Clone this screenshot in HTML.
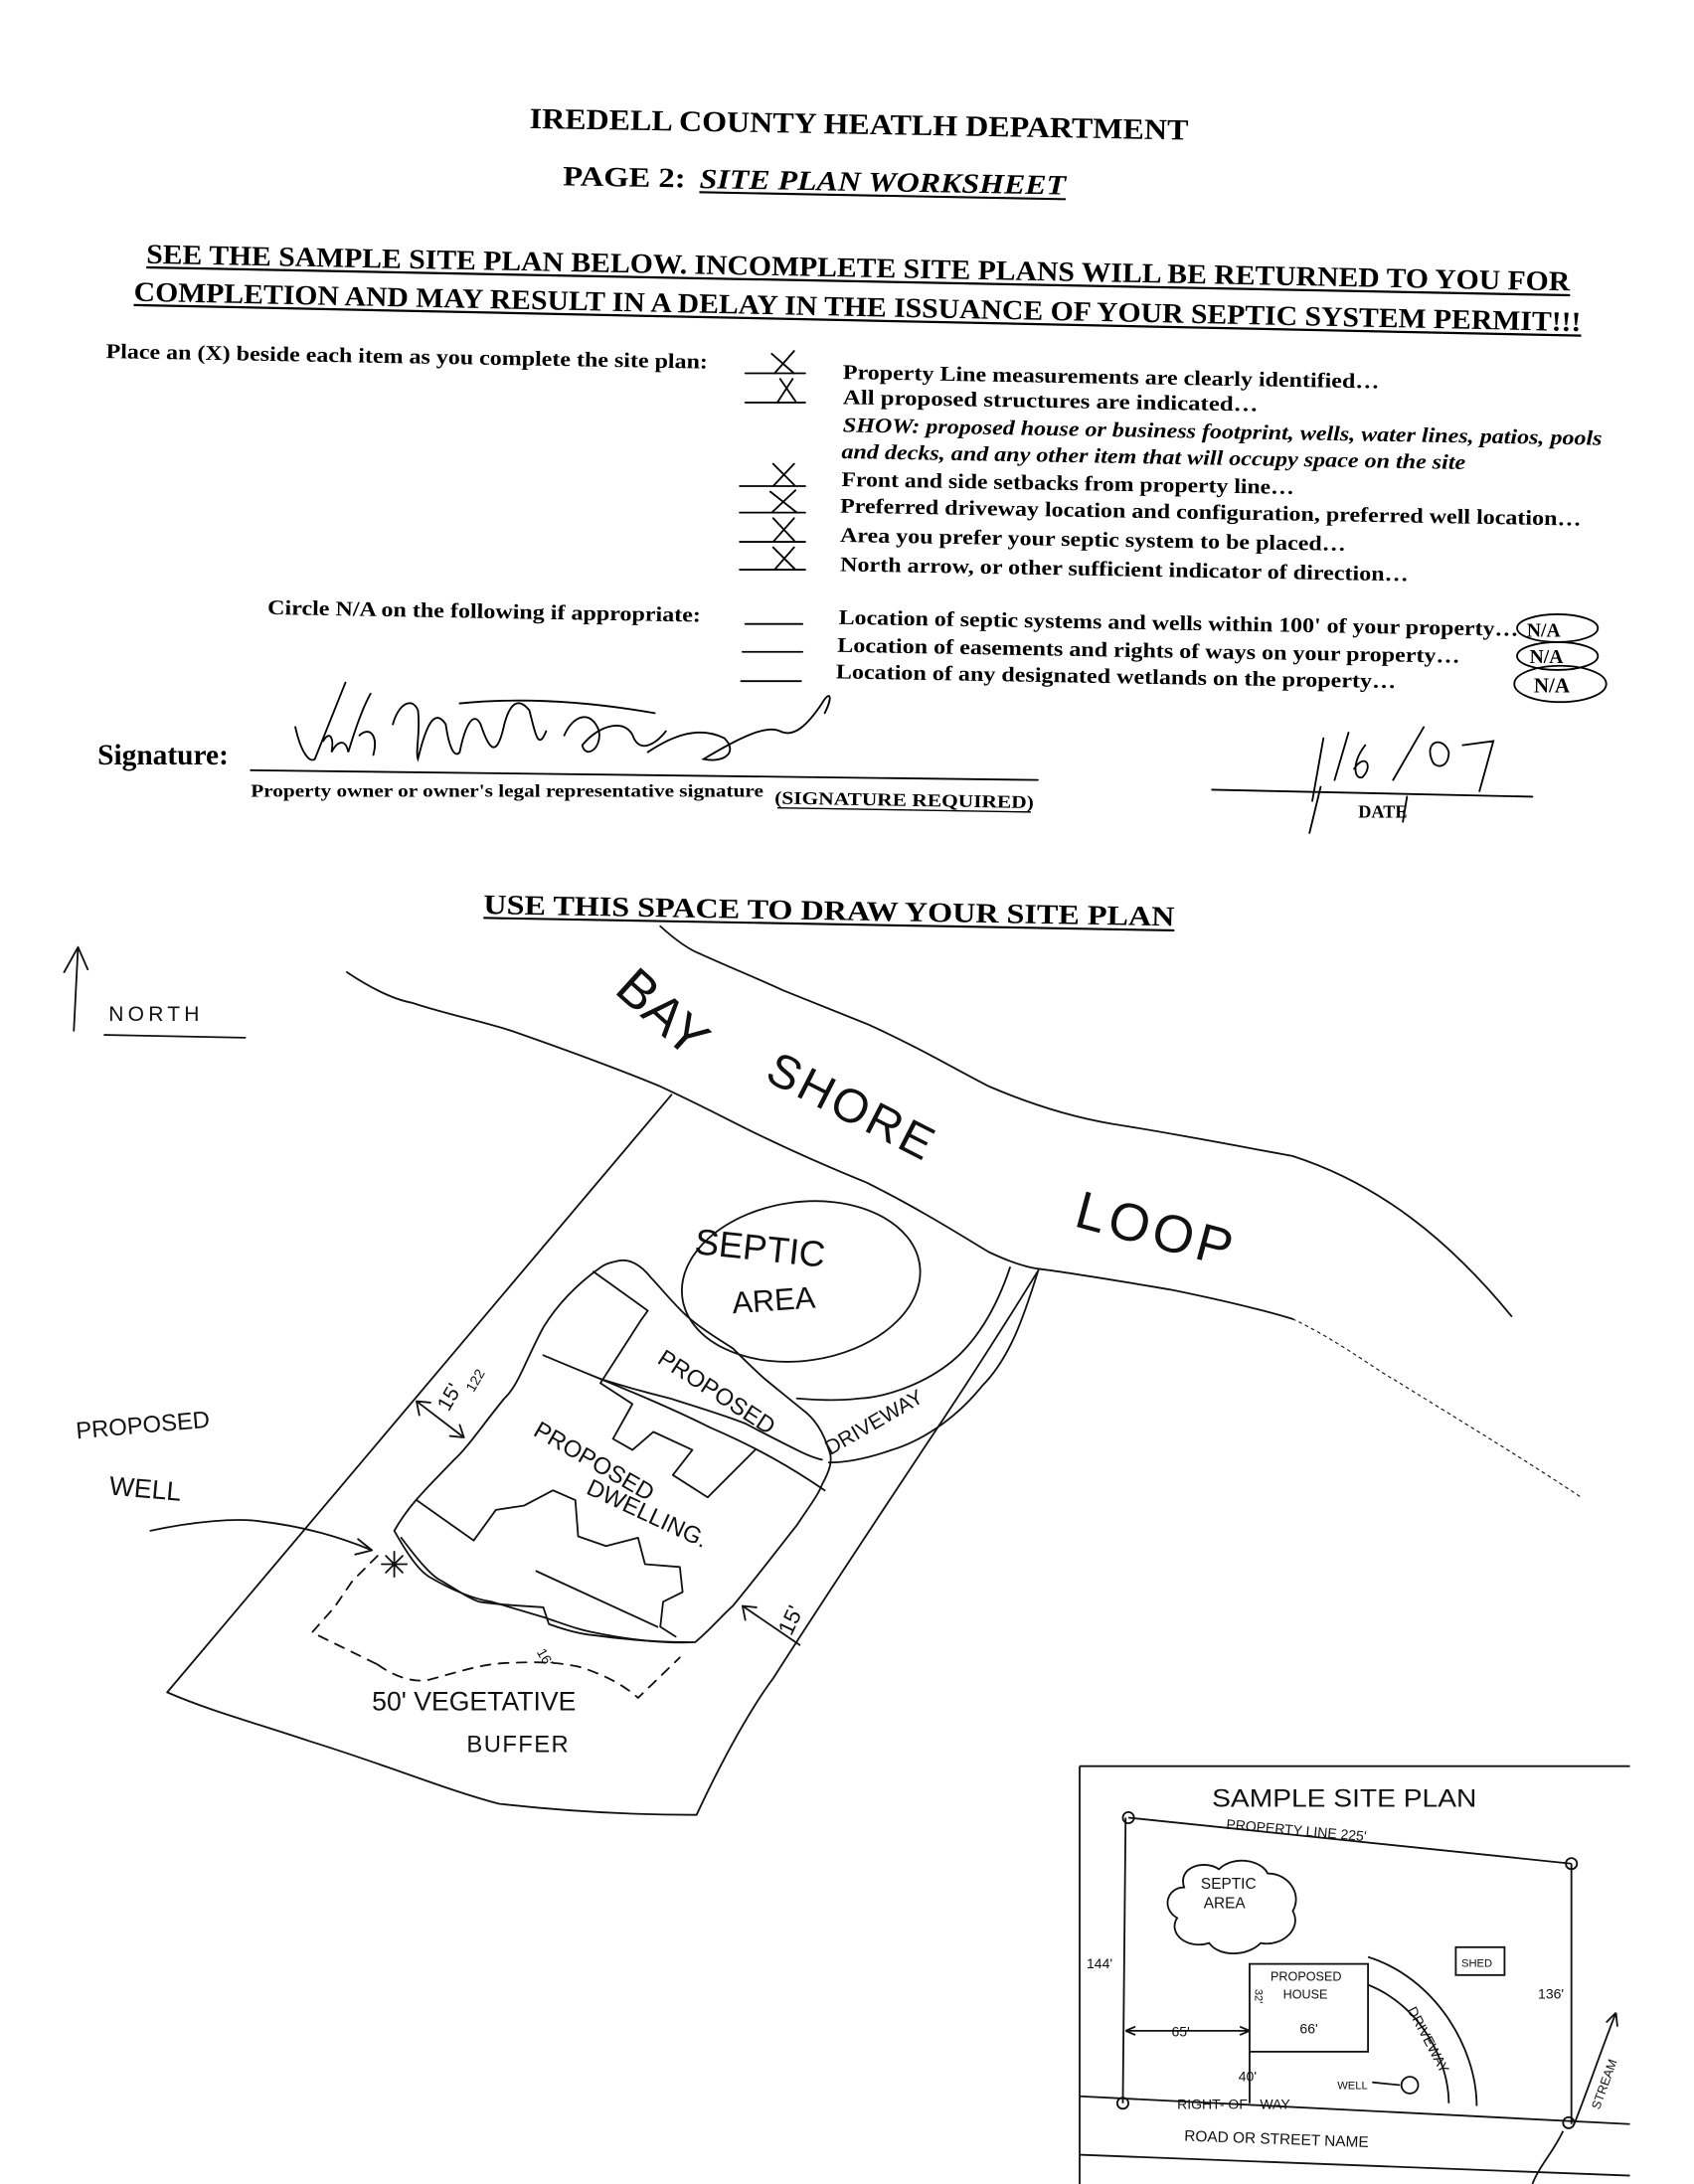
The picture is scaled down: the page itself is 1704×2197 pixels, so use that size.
<!DOCTYPE html>
<html><head><meta charset="utf-8"><style>
html,body{margin:0;padding:0;background:#fff;}
svg{display:block;}
.f{font-family:"Liberation Serif",serif;font-weight:bold;fill:#000;}
.h{font-family:"Liberation Sans",sans-serif;fill:#111;}
</style></head><body>
<svg width="1704" height="2197" viewBox="0 0 1216 1568" preserveAspectRatio="none" xmlns="http://www.w3.org/2000/svg">
<rect width="1216" height="1568" fill="#fff"/>
<!-- FORM -->
<text class="f" x="380" y="92" font-size="21" textLength="473" lengthAdjust="spacingAndGlyphs" transform="rotate(1 380 92)">IREDELL COUNTY HEATLH DEPARTMENT</text>
<text class="f" x="404" y="133" font-size="20" textLength="88" lengthAdjust="spacingAndGlyphs" transform="rotate(1 404 133)">PAGE 2:</text>
<text class="f" x="502" y="135" font-size="20" font-style="italic" textLength="263" lengthAdjust="spacingAndGlyphs" transform="rotate(1 502 135)">SITE PLAN WORKSHEET</text>
<line x1="502" y1="138" x2="765" y2="143" stroke="#000" stroke-width="1.5"/>
<text class="f" x="105" y="189" font-size="20" textLength="1022" lengthAdjust="spacingAndGlyphs" transform="rotate(1.1 105 189)">SEE THE SAMPLE SITE PLAN BELOW.  INCOMPLETE SITE PLANS WILL BE RETURNED TO YOU FOR</text>
<line x1="105" y1="192" x2="1127" y2="212" stroke="#000" stroke-width="1.6"/>
<text class="f" x="96" y="216" font-size="20" textLength="1039" lengthAdjust="spacingAndGlyphs" transform="rotate(1.2 96 216)">COMPLETION AND MAY RESULT IN A DELAY IN THE ISSUANCE OF YOUR SEPTIC SYSTEM PERMIT!!!</text>
<line x1="96" y1="219" x2="1135" y2="241" stroke="#000" stroke-width="1.6"/>
<text class="f" x="76" y="257" font-size="15" textLength="432" lengthAdjust="spacingAndGlyphs" transform="rotate(1 76 257)">Place an (X) beside each item as you complete the site plan:</text>
<g class="f" font-size="15">
<text x="605" y="272" textLength="385" lengthAdjust="spacingAndGlyphs" transform="rotate(1 605 272)">Property Line measurements are clearly identified…</text>
<text x="605" y="290" textLength="298" lengthAdjust="spacingAndGlyphs" transform="rotate(1 605 290)">All proposed structures are indicated…</text>
<text x="605" y="310" font-style="italic" textLength="545" lengthAdjust="spacingAndGlyphs" transform="rotate(1 605 310)">SHOW: proposed house or business footprint, wells, water lines, patios, pools</text>
<text x="604" y="329" font-style="italic" textLength="448" lengthAdjust="spacingAndGlyphs" transform="rotate(1 604 329)">and decks, and any other item that will occupy space on the site</text>
<text x="604" y="349" textLength="325" lengthAdjust="spacingAndGlyphs" transform="rotate(1 604 349)">Front and side setbacks from property line…</text>
<text x="603" y="368" textLength="532" lengthAdjust="spacingAndGlyphs" transform="rotate(1 603 368)">Preferred driveway location and configuration, preferred well location…</text>
<text x="603" y="389" textLength="363" lengthAdjust="spacingAndGlyphs" transform="rotate(1 603 389)">Area you prefer your septic system to be placed…</text>
<text x="603" y="410" textLength="408" lengthAdjust="spacingAndGlyphs" transform="rotate(1 603 410)">North arrow, or other sufficient indicator of direction…</text>
<text x="192" y="441" textLength="311" lengthAdjust="spacingAndGlyphs" transform="rotate(1 192 441)">Circle N/A on the following if appropriate:</text>
<text x="602" y="448" textLength="488" lengthAdjust="spacingAndGlyphs" transform="rotate(1 602 448)">Location of septic systems and wells within 100' of your property…</text>
<text x="601" y="468" textLength="447" lengthAdjust="spacingAndGlyphs" transform="rotate(1 601 468)">Location of easements and rights of ways on your property…</text>
<text x="600" y="487" textLength="402" lengthAdjust="spacingAndGlyphs" transform="rotate(1 600 487)">Location of any designated wetlands on the property…</text>
<text x="1096" y="457" font-size="14">N/A</text>
<text x="1098" y="476" font-size="14">N/A</text>
<text x="1101" y="497" font-size="15">N/A</text>
</g>
<g fill="none" stroke="#000" stroke-width="1.3" stroke-linecap="round">
<line x1="535" y1="268" x2="578" y2="268"/><line x1="535" y1="289" x2="578" y2="289"/>
<path d="M554,254 L570,268 M570,252 L556,268 M560,272 L571,288 M569,272 L558,289"/>
<path d="M555,333 L570,348 M570,333 L555,349 M553,353 L572,368 M571,352 L554,368 M555,372 L570,388 M570,372 L555,389 M555,393 L571,409 M570,393 L556,409"/>
<line x1="531" y1="349" x2="578" y2="349"/><line x1="531" y1="368" x2="578" y2="368"/><line x1="531" y1="389" x2="578" y2="389"/><line x1="531" y1="409" x2="578" y2="409"/>
<line x1="535" y1="448" x2="576" y2="448"/><line x1="533" y1="468" x2="576" y2="468"/><line x1="532" y1="489" x2="575" y2="489"/>
<ellipse cx="1118" cy="451" rx="29" ry="10"/>
<ellipse cx="1118" cy="471" rx="29" ry="10"/>
<ellipse cx="1120" cy="491" rx="33" ry="13"/>
<line x1="180" y1="553" x2="745" y2="560"/>
<line x1="870" y1="567" x2="1100" y2="572"/>
<path d="M212,522 C216,540 222,548 226,545 C232,530 240,510 248,490 M232,532 C236,525 240,528 238,540 C242,532 248,530 250,540 C256,520 262,505 266,498 M258,528 C264,522 272,526 268,542 M282,520 C286,505 296,500 300,510 C302,525 298,540 300,545 C306,520 312,508 320,520 C322,535 326,545 330,540 C334,520 340,510 345,520 C350,535 356,548 362,520 C366,505 372,500 380,510 C384,525 386,540 392,525 M330,505 C380,500 430,505 470,512 M405,528 C412,512 425,510 430,525 C432,538 420,545 418,535 C430,520 450,515 455,530 C460,540 470,535 478,525 M465,540 C480,530 500,520 520,530 C530,540 520,548 505,545 C530,530 550,520 560,525 C570,530 580,520 590,505 C596,495 598,500 592,512"/>
<path d="M942,575 L950,530 M958,560 L968,526 M972,552 C980,540 986,550 978,558 C972,560 970,548 980,535 M1000,560 L1022,522 M1028,546 C1022,532 1036,528 1040,540 C1040,552 1030,552 1028,546 M1050,535 L1072,532 L1062,568 M948,565 L940,598 M1010,572 L1007,590"/>
</g>
<text class="f" x="70" y="549" font-size="21">Signature:</text>
<text class="f" x="180" y="572" font-size="13" textLength="368" lengthAdjust="spacingAndGlyphs">Property owner or owner's legal representative signature</text>
<text class="f" x="556" y="577" font-size="13" textLength="186" lengthAdjust="spacingAndGlyphs" transform="rotate(1 556 577)">(SIGNATURE REQUIRED)</text>
<line x1="558" y1="580" x2="740" y2="583" stroke="#000" stroke-width="1"/>
<text class="f" x="975" y="587" font-size="13">DATE</text>
<text class="f" x="347" y="656" font-size="20" textLength="496" lengthAdjust="spacingAndGlyphs" transform="rotate(1 347 656)">USE THIS SPACE TO DRAW YOUR SITE PLAN</text>
<line x1="347" y1="659" x2="843" y2="668" stroke="#000" stroke-width="1.5"/>

<!-- SKETCH -->
<g fill="none" stroke="#111" stroke-width="1.3" stroke-linecap="round" stroke-linejoin="round">
<path d="M53,740 L56,680 M56,680 L46,698 M56,680 L63,696"/>
<path d="M75,743 L176,745"/>
<path d="M249,698 C270,712 285,718 296,720 C320,728 345,733 367,740 C410,755 445,768 474,780 C500,792 515,800 533,809 C565,825 595,838 622,849 C660,868 690,887 710,899 C725,906 737,910 746,911 C770,914 805,920 841,926 C880,934 905,940 928,947"/>
<path d="M928,947 C960,962 990,985 1000,990 C1040,1015 1090,1045 1135,1075" stroke-dasharray="2 3" stroke-width="0.8"/>
<path d="M474,665 C485,675 495,682 503,685 C525,695 545,703 562,711 C585,720 605,728 622,735 C660,752 690,770 710,780 C745,795 775,803 799,807 C850,815 900,825 928,830 C990,850 1040,890 1085,945"/>
<path d="M482,786 L120,1215 C150,1228 180,1236 222,1250 C280,1268 320,1285 358,1295 C420,1302 470,1303 500,1303 C520,1260 540,1225 555,1205 C590,1150 630,1090 663,1040 C700,985 725,945 746,911"/>
<ellipse cx="575" cy="920" rx="86" ry="57" transform="rotate(-8 575 920)"/>
<!-- driveway -->
<path d="M745,913 C735,945 725,975 705,995 C685,1020 660,1035 640,1041 C620,1048 605,1050 595,1050"/>
<path d="M725,910 C715,940 700,965 680,980 C660,995 635,1003 617,1004 C600,1006 585,1005 572,1004"/>
<!-- envelope -->
<path d="M431,910 C410,925 398,940 390,953 C378,975 372,995 362,1004 C345,1025 335,1040 326,1048 C310,1065 295,1078 283,1099 C292,1115 300,1127 308,1132 C325,1142 340,1148 353,1150 C370,1155 380,1158 390,1161 C405,1166 415,1170 426,1172 C455,1178 480,1180 499,1179 C510,1170 518,1160 526,1153 C545,1130 560,1110 572,1095 C582,1080 588,1072 590,1066 C596,1055 598,1048 595,1041 C590,1025 583,1017 576,1012 C565,1003 555,995 549,990 C540,982 532,974 526,968 C510,958 498,950 490,942 C480,932 472,922 467,917 C460,908 452,904 445,905 C440,906 435,907 431,910"/>
<path d="M288,1104 C300,1120 310,1132 317,1135 C330,1143 338,1148 344,1150 C365,1153 380,1153 390,1154 L394,1166 C405,1170 415,1173 426,1174 C455,1178 480,1179 494,1179"/>
<path d="M390,973 C430,990 470,1005 510,1025 C545,1040 570,1055 592,1070"/>
<path d="M426,913 L465,941 L460,948 L431,993 L454,1008 L440,1033 L454,1041 L469,1028 L497,1041 L483,1059 L508,1075 L542,1041"/>
<path d="M431,990 C450,996 465,1000 481,1004 C500,1010 520,1016 535,1022 C550,1030 562,1036 572,1041 C580,1045 585,1047 590,1048"/>
<path d="M299,1077 L340,1106 L356,1084 L376,1081 L397,1070 L413,1077 L415,1103 L435,1110 L458,1104 L463,1123 L488,1125 L490,1143 L476,1150 L474,1168 L485,1175"/>
<path d="M385,1128 L472,1168"/>
<!-- buffer -->
<path d="M271,1117 L253,1135 L240,1154 L224,1172 L271,1195 M271,1195 C285,1205 298,1208 308,1206 C330,1200 345,1195 362,1194 C385,1193 400,1193 417,1197 C435,1203 448,1210 458,1219 L488,1190" stroke-dasharray="7 6"/>
<path d="M277,1117 L289,1129 M289,1117 L277,1129 M283,1114 L283,1132 M274,1123 L292,1123"/>
<path d="M108,1099 C140,1092 170,1090 185,1092 C220,1096 245,1104 267,1113 M267,1113 L257,1105 M267,1113 L255,1116"/>
<path d="M299,1006 L333,1032 M299,1006 L301,1016 M299,1006 L309,1007 M333,1032 L330,1023 M333,1032 L323,1031"/>
<path d="M533,1153 L574,1181 M533,1153 L535,1163 M533,1153 L543,1154"/>
</g>
<g class="h">
<text x="78" y="733" font-size="15" letter-spacing="3">NORTH</text>
<text x="440" y="712" font-size="38" transform="rotate(42 440 712)">BAY</text>
<text x="548" y="775" font-size="34" letter-spacing="2" transform="rotate(27 548 775)">SHORE</text>
<text x="770" y="880" font-size="38" letter-spacing="3" transform="rotate(15 770 880)">LOOP</text>
<text x="498" y="900" font-size="26" transform="rotate(6 498 900)">SEPTIC</text>
<text x="526" y="943" font-size="22" transform="rotate(-4 526 943)">AREA</text>
<text x="471" y="978" font-size="17" transform="rotate(33 471 978)">PROPOSED</text>
<text x="596" y="1045" font-size="15" transform="rotate(-30 596 1045)">DRIVEWAY</text>
<text x="382" y="1030" font-size="17" transform="rotate(30 382 1030)">PROPOSED</text>
<text x="420" y="1072" font-size="17" transform="rotate(25 420 1072)">DWELLING.</text>
<text x="55" y="1033" font-size="17" transform="rotate(-5 55 1033)">PROPOSED</text>
<text x="78" y="1073" font-size="19" transform="rotate(5 78 1073)">WELL</text>
<text x="322" y="1014" font-size="15" transform="rotate(-60 322 1014)">15'</text>
<text x="340" y="1000" font-size="10" transform="rotate(-60 340 1000)">122</text>
<text x="568" y="1175" font-size="16" transform="rotate(-65 568 1175)">15'</text>
<text x="267" y="1228" font-size="19">50' VEGETATIVE</text>
<text x="335" y="1258" font-size="17" letter-spacing="1">BUFFER</text>
<text x="385" y="1186" font-size="10" transform="rotate(60 385 1186)">16'</text>
</g>

<!-- SAMPLE SITE PLAN -->
<g fill="none" stroke="#111" stroke-width="1.3">
<line x1="775" y1="1268" x2="1170" y2="1268"/>
<line x1="775" y1="1268" x2="775" y2="1568"/>
<path d="M810,1305 L1128,1338 M808,1305 L806,1510 M1128,1338 L1128,1525"/>
<circle cx="810" cy="1305" r="4"/><circle cx="1128" cy="1338" r="4"/><circle cx="806" cy="1510" r="4"/><circle cx="1126" cy="1524" r="4"/>
<path d="M775,1505 L1170,1525 M775,1547 L1170,1562"/>
<path d="M850,1355 C845,1340 865,1335 875,1342 C885,1332 905,1335 910,1345 C925,1345 935,1360 928,1372 C935,1385 920,1398 905,1395 C895,1405 875,1405 868,1395 C852,1400 838,1388 845,1377 C833,1370 838,1355 850,1355 Z"/>
<rect x="1045" y="1398" width="35" height="20"/>
<rect x="897" y="1410" width="85" height="63"/>
<path d="M982,1405 C1030,1420 1060,1470 1060,1512 M982,1425 C1020,1440 1040,1480 1040,1510"/>
<path d="M808,1458 L897,1458 M897,1473 L897,1510 M808,1458 L815,1455 M808,1458 L815,1461 M897,1458 L890,1455 M897,1458 L890,1461"/>
<circle cx="1012" cy="1497" r="6"/>
<path d="M985,1495 L1005,1497"/>
<path d="M1130,1525 C1140,1500 1150,1470 1160,1445 M1160,1445 L1153,1452 M1160,1445 L1161,1455"/>
<path d="M1122,1530 C1115,1545 1105,1555 1100,1568"/>
</g>
<g class="h" fill="#111">
<text x="870" y="1297" font-size="18" textLength="190" lengthAdjust="spacingAndGlyphs">SAMPLE SITE PLAN</text>
<text x="880" y="1313" font-size="10" transform="rotate(5 880 1313)">PROPERTY  LINE  225'</text>
<text x="862" y="1356" font-size="11">SEPTIC</text>
<text x="864" y="1370" font-size="11">AREA</text>
<text x="1049" y="1412" font-size="8">SHED</text>
<text x="912" y="1422" font-size="9">PROPOSED</text>
<text x="921" y="1435" font-size="9">HOUSE</text>
<text x="933" y="1460" font-size="10">66'</text>
<text x="901" y="1428" font-size="8" transform="rotate(90 901 1428)">32'</text>
<text x="841" y="1462" font-size="10">65'</text>
<text x="889" y="1494" font-size="10">40'</text>
<text x="780" y="1413" font-size="10">144'</text>
<text x="1104" y="1435" font-size="10">136'</text>
<text x="1010" y="1443" font-size="10" transform="rotate(62 1010 1443)">DRIVEWAY</text>
<text x="960" y="1500" font-size="8">WELL</text>
<text x="845" y="1514" font-size="10">RIGHT-   OF - WAY</text>
<text x="850" y="1537" font-size="11" transform="rotate(2 850 1537)">ROAD  OR  STREET  NAME</text>
<text x="1148" y="1515" font-size="9" transform="rotate(-70 1148 1515)">STREAM</text>
</g>
</svg>
</body></html>
